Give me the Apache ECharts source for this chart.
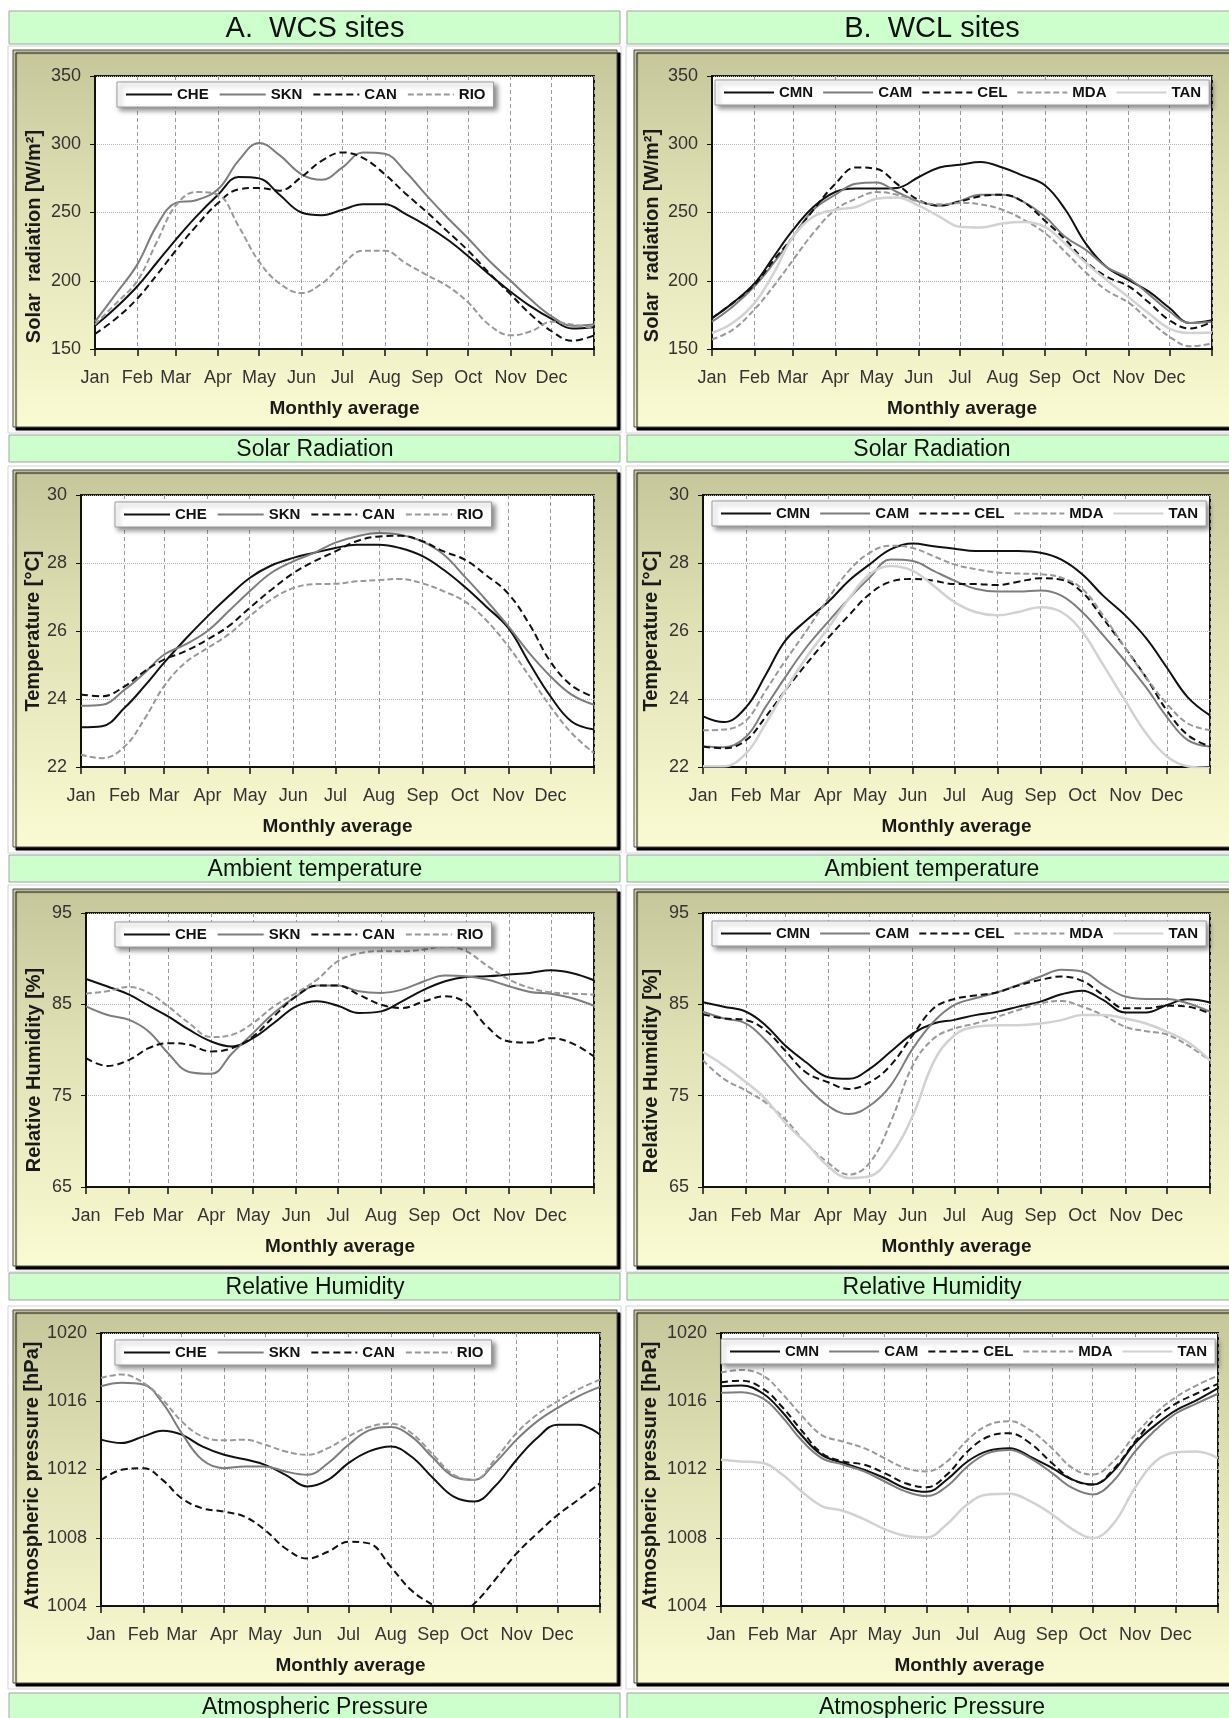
<!DOCTYPE html>
<html>
<head>
<meta charset="utf-8">
<title>WCS / WCL sites - monthly averages</title>
<script src="https://cdn.jsdelivr.net/npm/echarts@6.0.0/dist/echarts.min.js"></script>
<style>
  html, body { margin: 0; padding: 0; background: #fff; }
  #main { width: 1229px; height: 1718px; }
</style>
</head>
<body>
<div id="main"></div>
<script>
// day of year of every point: month starts and mid-months
var days = [0, 15, 31, 45, 59, 74, 90, 105, 120, 135, 151, 166, 181, 196, 212, 227, 243, 258, 273, 288, 304, 319, 334, 349, 365];
var monthStarts = [0, 31, 59, 90, 120, 151, 181, 212, 243, 273, 304, 334, 365];
var monthNames = ['Jan', 'Feb', 'Mar', 'Apr', 'May', 'Jun', 'Jul', 'Aug', 'Sep', 'Oct', 'Nov', 'Dec'];

var wcsNames = ['CHE', 'SKN', 'CAN', 'RIO'];
var wclNames = ['CMN', 'CAM', 'CEL', 'MDA', 'TAN'];

// solar radiation [W/m2]
var solarChe = [167, 180, 196, 213, 230, 247, 263, 276, 275, 263, 250, 248, 252, 256, 256, 249, 240, 230, 218, 205, 192, 181, 172, 165, 166];
var solarSkn = [170, 190, 212, 240, 257, 259, 267, 288, 301, 292, 278, 274, 283, 294, 293, 280, 262, 246, 231, 215, 200, 186, 174, 167, 168];
var solarCan = [161, 172, 187, 204, 222, 240, 257, 267, 268, 266, 276, 288, 294, 290, 278, 264, 250, 236, 222, 206, 190, 175, 163, 156, 160];
var solarRio = [168, 183, 200, 228, 255, 265, 263, 240, 214, 198, 191, 198, 212, 222, 222, 213, 204, 196, 184, 168, 160, 163, 170, 168, 165];
var solarCmn = [172.6, 183.6, 198, 217.6, 237, 254, 265, 267.5, 267.5, 268, 276, 283, 285, 287, 283, 277, 270, 252, 227, 210, 200.6, 192, 180, 169, 171];
var solarCam = [170, 181, 196, 213, 232, 252, 263, 271, 272, 265, 258, 255, 258.5, 263, 263, 258, 247, 232, 222.5, 210, 202, 190, 177.5, 169, 170];
var solarCel = [172.6, 183.6, 197, 215, 232, 252, 271, 283, 282, 271, 259, 255, 258, 262, 263, 258, 244, 230, 214, 203, 196, 184, 171, 165, 170];
var solarMda = [157, 164, 179, 196, 215, 235, 252, 260, 265, 263, 258, 256, 257, 256, 252, 245, 235, 221, 206, 193, 184, 171, 159, 152, 154];
var solarTan = [161.7, 169, 183.6, 205.5, 232, 247, 252, 254, 260, 261, 255, 247, 239.5, 239, 242, 243, 239.5, 227, 213, 200.6, 188, 176, 165, 161.7, 162];

// ambient temperature [C]
var tempChe = [23.17, 23.2, 23.74, 24.37, 25.06, 25.75, 26.43, 27.02, 27.56, 27.92, 28.15, 28.3, 28.44, 28.54, 28.54, 28.44, 28.2, 27.8, 27.3, 26.73, 26.09, 25.06, 24.08, 23.34, 23.1];
var tempSkn = [23.8, 23.83, 24.27, 24.76, 25.3, 25.6, 26.0, 26.58, 27.17, 27.7, 28.05, 28.3, 28.6, 28.78, 28.88, 28.83, 28.63, 28.25, 27.6, 26.92, 26.14, 25.35, 24.67, 24.13, 23.83];
var tempCan = [24.13, 24.08, 24.37, 24.81, 25.16, 25.4, 25.75, 26.14, 26.68, 27.2, 27.7, 28.05, 28.34, 28.64, 28.78, 28.8, 28.64, 28.34, 28.1, 27.65, 27.1, 26.2, 25.1, 24.4, 24.06];
var tempRio = [22.36, 22.26, 22.6, 23.4, 24.37, 25.06, 25.5, 25.9, 26.43, 26.92, 27.26, 27.38, 27.39, 27.46, 27.5, 27.53, 27.4, 27.17, 26.87, 26.33, 25.55, 24.67, 23.78, 23.0, 22.41];
var tempCmn = [23.49, 23.32, 23.76, 24.7, 25.7, 26.3, 26.85, 27.48, 27.96, 28.4, 28.57, 28.49, 28.42, 28.35, 28.35, 28.35, 28.3, 28.1, 27.67, 27.04, 26.46, 25.79, 24.92, 24.05, 23.52];
var tempCam = [22.6, 22.58, 22.89, 23.76, 24.63, 25.5, 26.27, 26.95, 27.57, 28.1, 28.06, 27.77, 27.48, 27.24, 27.16, 27.16, 27.19, 27.04, 26.56, 25.88, 25.11, 24.34, 23.47, 22.79, 22.6];
var tempCel = [22.6, 22.55, 22.79, 23.47, 24.24, 25.01, 25.79, 26.46, 27.09, 27.45, 27.53, 27.48, 27.38, 27.38, 27.35, 27.45, 27.55, 27.51, 27.14, 26.37, 25.5, 24.63, 23.66, 22.94, 22.6];
var tempMda = [23.08, 23.1, 23.37, 24.24, 25.11, 25.98, 26.95, 27.77, 28.3, 28.51, 28.44, 28.2, 27.96, 27.82, 27.72, 27.69, 27.67, 27.57, 27.24, 26.46, 25.5, 24.63, 23.86, 23.28, 23.08];
var tempTan = [22.02, 22.02, 22.4, 23.27, 24.24, 25.2, 26.08, 26.95, 27.67, 27.91, 27.77, 27.33, 26.85, 26.56, 26.46, 26.56, 26.7, 26.56, 25.98, 25.01, 23.95, 22.99, 22.31, 22.02, 21.97];

// relative humidity [%]
var humChe = [87.78, 86.98, 86.06, 84.85, 83.68, 82.22, 80.93, 80.38, 81.3, 82.95, 84.78, 85.33, 84.85, 84.05, 84.23, 85.33, 86.61, 87.53, 88.0, 88.08, 88.26, 88.44, 88.74, 88.44, 87.64];
var humSkn = [84.78, 83.86, 83.3, 82.03, 79.65, 77.6, 77.4, 79.65, 81.85, 84.05, 85.88, 87.05, 87.05, 86.43, 86.25, 86.61, 87.53, 88.15, 88.08, 87.71, 86.98, 86.36, 86.17, 85.7, 84.85];
var humCan = [79.1, 78.26, 78.92, 80.2, 80.75, 80.57, 79.84, 80.2, 81.48, 83.68, 85.88, 87.05, 87.05, 86.06, 84.96, 84.6, 85.33, 85.88, 85.15, 82.58, 80.93, 80.82, 81.3, 80.75, 79.29];
var humRio = [86.17, 86.43, 86.9, 86.25, 84.78, 82.95, 81.41, 81.67, 82.95, 84.78, 86.25, 87.71, 89.73, 90.57, 90.82, 90.82, 91.0, 91.37, 90.82, 89.25, 87.71, 86.8, 86.32, 86.17, 86.06];
var humCmn = [85.22, 84.74, 84.19, 82.72, 80.51, 78.68, 77.02, 76.84, 77.94, 79.8, 81.8, 82.9, 83.3, 83.82, 84.2, 84.75, 85.3, 86.1, 86.5, 85.48, 84.1, 84.1, 84.93, 85.55, 85.2];
var humCam = [84.19, 83.46, 82.9, 81.07, 78.68, 76.1, 73.9, 72.98, 73.9, 76.1, 80.15, 83.09, 84.93, 85.66, 86.32, 87.13, 88.05, 88.79, 88.6, 87.13, 85.85, 85.59, 85.59, 85.11, 84.19];
var humCel = [83.9, 83.46, 83.27, 82.17, 79.96, 77.57, 76.47, 75.74, 76.47, 78.31, 81.62, 84.56, 85.59, 85.96, 86.32, 87.06, 87.68, 88.05, 87.57, 86.03, 84.56, 84.56, 84.85, 84.74, 84.0];
var humMda = [78.86, 76.84, 75.55, 74.26, 72.43, 69.85, 67.65, 66.36, 67.65, 72.06, 78.31, 81.25, 82.35, 82.9, 83.64, 84.38, 85.11, 85.37, 84.74, 83.82, 82.54, 82.06, 81.69, 80.51, 78.86];
var humTan = [79.78, 78.31, 76.47, 74.63, 72.06, 69.85, 67.28, 65.99, 66.18, 68.38, 72.79, 78.68, 81.62, 82.54, 82.72, 82.72, 82.9, 83.27, 83.82, 83.82, 83.46, 82.9, 81.99, 80.88, 78.86];

// atmospheric pressure [hPa]
var presChe = [1013.75, 1013.55, 1013.94, 1014.27, 1014.04, 1013.35, 1012.86, 1012.6, 1012.27, 1011.69, 1011.0, 1011.39, 1012.37, 1013.06, 1013.35, 1012.76, 1011.49, 1010.41, 1010.12, 1011.0, 1012.57, 1013.84, 1014.63, 1014.63, 1014.04];
var presSkn = [1016.88, 1017.08, 1016.98, 1015.9, 1014.14, 1012.57, 1012.08, 1012.18, 1012.18, 1011.88, 1011.69, 1012.37, 1013.45, 1014.29, 1014.49, 1013.94, 1012.67, 1011.59, 1011.39, 1012.37, 1013.75, 1014.82, 1015.61, 1016.29, 1016.84];
var presCan = [1011.39, 1011.98, 1012.08, 1011.39, 1010.31, 1009.73, 1009.53, 1009.24, 1008.45, 1007.37, 1006.78, 1007.18, 1007.76, 1007.67, 1006.29, 1004.92, 1004.04, 1003.3, 1004.14, 1005.51, 1007.08, 1008.25, 1009.33, 1010.22, 1011.2];
var presRio = [1017.37, 1017.57, 1017.08, 1016.1, 1014.82, 1013.94, 1013.71, 1013.75, 1013.45, 1013.06, 1012.86, 1013.25, 1013.94, 1014.49, 1014.69, 1014.14, 1012.86, 1011.69, 1011.39, 1012.57, 1014.14, 1015.22, 1016.0, 1016.69, 1017.27];
var presCmn = [1016.88, 1016.92, 1016.44, 1015.37, 1014.02, 1012.86, 1012.38, 1011.99, 1011.5, 1010.92, 1010.69, 1011.41, 1012.47, 1013.09, 1013.25, 1012.76, 1012.09, 1011.41, 1011.12, 1011.89, 1013.54, 1014.6, 1015.47, 1016.05, 1016.77];
var presCam = [1016.5, 1016.53, 1016.15, 1015.08, 1013.73, 1012.67, 1012.28, 1011.89, 1011.31, 1010.73, 1010.44, 1011.02, 1012.18, 1012.96, 1013.15, 1012.67, 1011.8, 1010.92, 1010.54, 1011.31, 1013.05, 1014.31, 1015.28, 1015.86, 1016.44];
var presCel = [1017.11, 1017.21, 1016.73, 1015.66, 1014.31, 1012.96, 1012.47, 1012.28, 1011.8, 1011.21, 1010.96, 1011.7, 1013.05, 1013.92, 1014.12, 1013.54, 1012.38, 1011.41, 1011.12, 1011.99, 1013.63, 1014.99, 1015.86, 1016.44, 1017.02];
var presMda = [1017.69, 1017.83, 1017.5, 1016.44, 1015.18, 1014.02, 1013.63, 1013.25, 1012.67, 1012.09, 1011.89, 1012.47, 1013.73, 1014.6, 1014.83, 1014.31, 1013.25, 1012.09, 1011.7, 1012.47, 1014.02, 1015.28, 1016.24, 1016.92, 1017.5];
var presTan = [1012.57, 1012.47, 1012.38, 1011.7, 1010.73, 1009.86, 1009.57, 1009.09, 1008.51, 1008.12, 1008.02, 1008.8, 1009.96, 1010.54, 1010.58, 1010.15, 1009.38, 1008.51, 1007.98, 1008.8, 1010.92, 1012.47, 1013.01, 1013.05, 1012.67];

var colTitles = ['A.  WCS sites', 'B.  WCL sites'];
var rowTitles = ['Solar Radiation', 'Ambient temperature', 'Relative Humidity', 'Atmospheric Pressure'];

// line look of each site
var lineLook = {
	CHE : { color : '#111', type : 'solid', width : 2 },
	SKN : { color : '#7d7d7d', type : 'solid', width : 2 },
	CAN : { color : '#111', type : [ 7, 4 ], width : 2 },
	RIO : { color : '#999', type : [ 6, 3 ], width : 2 },
	CMN : { color : '#111', type : 'solid', width : 2 },
	CAM : { color : '#7d7d7d', type : 'solid', width : 2 },
	CEL : { color : '#111', type : [ 7, 4 ], width : 2 },
	MDA : { color : '#999', type : [ 6, 3 ], width : 2 },
	TAN : { color : '#d2d2d2', type : 'solid', width : 2.5 }
};

var sans = "'Liberation Sans',Arial,sans-serif";

// grid box [left, top, right, bottom], y title centre x and downward shift, legend corner
var panels = [
	{ grid : [ 95, 76, 594, 349 ], min : 150, max : 350, step : 50, yName : 'Solar  radiation [W/m²]', nameX : 34, shift : 24, legend : [ 117, 82 ], names : wcsNames, values : [ solarChe, solarSkn, solarCan, solarRio ] },
	{ grid : [ 712, 76, 1212, 349 ], min : 150, max : 350, step : 50, yName : 'Solar  radiation [W/m²]', nameX : 652, shift : 23, legend : [ 715, 80 ], names : wclNames, values : [ solarCmn, solarCam, solarCel, solarMda, solarTan ] },
	{ grid : [ 81, 495, 594, 767 ], min : 22, max : 30, step : 2, yName : 'Temperature [°C]', nameX : 34, shift : 0, legend : [ 115, 502 ], names : wcsNames, values : [ tempChe, tempSkn, tempCan, tempRio ] },
	{ grid : [ 703, 495, 1210, 767 ], min : 22, max : 30, step : 2, yName : 'Temperature [°C]', nameX : 651, shift : 0, legend : [ 712, 501 ], names : wclNames, values : [ tempCmn, tempCam, tempCel, tempMda, tempTan ] },
	{ grid : [ 86, 913, 594, 1187 ], min : 65, max : 95, step : 10, yName : 'Relative Humidity [%]', nameX : 34, shift : 20, legend : [ 115, 922 ], names : wcsNames, values : [ humChe, humSkn, humCan, humRio ] },
	{ grid : [ 703, 913, 1210, 1187 ], min : 65, max : 95, step : 10, yName : 'Relative Humidity [%]', nameX : 651, shift : 21, legend : [ 712, 921 ], names : wclNames, values : [ humCmn, humCam, humCel, humMda, humTan ] },
	{ grid : [ 101, 1333, 600, 1606 ], min : 1004, max : 1020, step : 4, yName : 'Atmospheric pressure [hPa]', nameX : 32, shift : 6, legend : [ 115, 1340 ], names : wcsNames, values : [ presChe, presSkn, presCan, presRio ] },
	{ grid : [ 721, 1333, 1218, 1606 ], min : 1004, max : 1020, step : 4, yName : 'Atmospheric pressure [hPa]', nameX : 650, shift : 6, legend : [ 721, 1339 ], names : wclNames, values : [ presCmn, presCam, presCel, presMda, presTan ] }
];

var grids = [], xAxes = [], yAxes = [], series = [], legends = [], graphics = [];

panels.forEach(function(p, i) {
	var five = p.names.length == 5;
	grids.push({
		left : p.grid[0], top : p.grid[1],
		width : p.grid[2] - p.grid[0], height : p.grid[3] - p.grid[1],
		show : true, backgroundColor : '#fff', borderColor : '#1a1a1a', borderWidth : 2,
		containLabel : false, outerBoundsMode : 'none'
	});
	xAxes.push({
		type : 'value', gridIndex : i, min : 0, max : 365,
		name : 'Monthly average', nameLocation : 'middle', nameGap : 50,
		nameTextStyle : { fontFamily : sans, fontWeight : 'bold', fontSize : 19, color : '#1a1a1a' },
		axisLine : { show : true, onZero : false, lineStyle : { color : '#111', width : 2 } },
		axisTick : { show : true, customValues : monthStarts, length : 7, lineStyle : { color : '#111', width : 1.5 } },
		axisLabel : {
			customValues : monthStarts.slice(0, 12), margin : 20,
			fontFamily : sans, fontSize : 18, color : '#333',
			formatter : function(v) {
				var k = monthStarts.indexOf(Math.round(v));
				return k >= 0 && k < 12 ? monthNames[k] : '';
			}
		},
		splitLine : { show : true, lineStyle : { color : '#9c9c9c', type : [ 4, 3 ], width : 1 } }
	});
	yAxes.push({
		type : 'value', gridIndex : i, min : p.min, max : p.max, interval : p.step,
		name : p.yName, nameLocation : 'middle', nameRotate : 90,
		nameGap : p.grid[0] - p.nameX - 10,
		nameTextStyle : { fontFamily : sans, fontWeight : 'bold', fontSize : 20, color : '#1a1a1a', padding : [ 0, 2 * p.shift, 0, 0 ] },
		axisLine : { show : true, lineStyle : { color : '#111', width : 2 } },
		axisTick : { show : true, length : 5, lineStyle : { color : '#111' } },
		axisLabel : {
			margin : 14, fontFamily : sans, fontSize : 18, color : '#333',
			formatter : function(v) { return String(v); }
		},
		splitLine : { show : true, lineStyle : { color : '#b4b4b4', type : 'dotted', width : 1 } }
	});
	p.names.forEach(function(name, k) {
		var look = lineLook[name];
		series.push({
			type : 'line', name : name, xAxisIndex : i, yAxisIndex : i,
			data : days.map(function(d, j) { return [ d, p.values[k][j] ]; }),
			smooth : 0.4, symbol : 'none', clip : true, silent : true,
			lineStyle : { color : look.color, type : look.type, width : look.width },
			itemStyle : { color : look.color }
		});
	});
	legends.push({
		left : p.legend[0], top : p.legend[1], orient : 'horizontal',
		width : five ? 505 : 420,
		data : p.names, selectedMode : false,
		itemWidth : five ? 50 : 46, itemHeight : 12,
		itemGap : five ? 9 : 10, padding : [ 5, 8, 5, 8 ],
		backgroundColor : '#fff', borderColor : '#9a9a9a', borderWidth : 1,
		shadowBlur : 5, shadowColor : 'rgba(0,0,0,0.45)', shadowOffsetX : 3, shadowOffsetY : 3,
		itemStyle : { opacity : 0 },
		textStyle : { fontFamily : sans, fontWeight : 'bold', fontSize : 15, color : '#111' }
	});
});

// frames, header bars and caption bars
var colX = [ 9, 627 ], colW = [ 611, 606 ], colMid = [ 315, 932 ];
var panelX = [ 13, 634 ], panelW = [ 604, 600 ];
var panelRows = [ [ 50, 427 ], [ 470, 847 ], [ 889, 1266 ], [ 1310, 1683 ] ];
var labelTops = [ 435, 855, 1273, 1693 ];

function bar(x, y, w, h, text, size, cx) {
	graphics.push({
		type : 'rect', z : -10,
		shape : { x : x, y : y, width : w, height : h },
		style : { fill : '#ccffcc', stroke : '#a3a3a3', lineWidth : 1 }
	});
	graphics.push({
		type : 'text', z : -9,
		style : { text : text, x : cx, y : y + h / 2 + 1, align : 'center', verticalAlign : 'middle',
			font : size + 'px ' + sans, fill : '#111' }
	});
}

for (var c = 0; c < 2; c++) {
	bar(colX[c], 11, colW[c], 33, colTitles[c], 29, colMid[c]);
	for (var r = 0; r < 4; r++) {
		var boxTop = panelRows[r][0], boxH = panelRows[r][1] - panelRows[r][0];
		graphics.push({
			type : 'rect', z : -11,
			shape : { x : colX[c] - 1, y : boxTop - 4, width : colW[c] + 2, height : boxH + 10 },
			style : { fill : 'none', stroke : '#d4d4d4', lineWidth : 1 }
		});
		graphics.push({
			type : 'rect', z : -10,
			shape : { x : panelX[c], y : boxTop, width : panelW[c], height : boxH },
			style : {
				fill : { type : 'linear', x : 0, y : 0, x2 : 0, y2 : 1, colorStops : [
					{ offset : 0, color : '#c6c69b' }, { offset : 0.4, color : '#e0e0b5' }, { offset : 1, color : '#fbfbd3' } ] },
				stroke : '#4a4a4a', lineWidth : 1,
				shadowColor : '#000', shadowOffsetX : 3, shadowOffsetY : 3, shadowBlur : 1
			}
		});
		bar(colX[c], labelTops[r], colW[c], 27, rowTitles[r], 23, colMid[c]);
	}
}

var chart = echarts.init(document.getElementById('main'));
chart.setOption({
	animation : false,
	backgroundColor : '#fff',
	grid : grids,
	xAxis : xAxes,
	yAxis : yAxes,
	legend : legends,
	graphic : { elements : graphics },
	series : series
});
</script>
</body>
</html>
